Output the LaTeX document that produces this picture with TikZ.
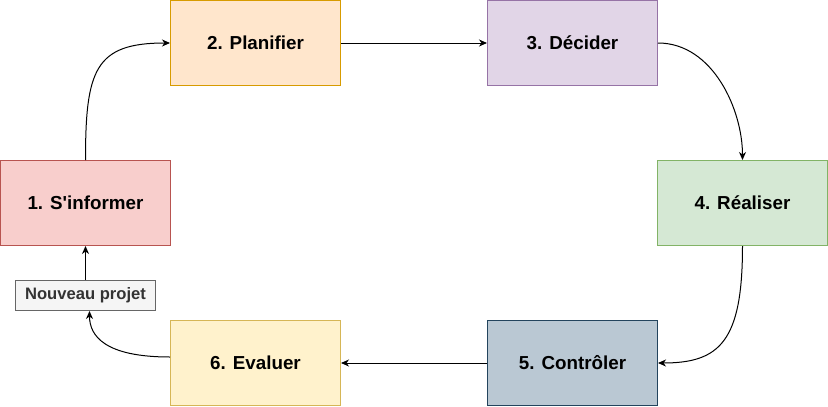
\documentclass[tikz,border=0pt]{standalone}
\usepackage{fontspec}
\setmainfont{Liberation Sans}[Ligatures=TeXOff]
\usetikzlibrary{arrows.meta}
\definecolor{f1}{HTML}{F8CECC}\definecolor{s1}{HTML}{B85450}
\definecolor{f2}{HTML}{FFE6CC}\definecolor{s2}{HTML}{D79B00}
\definecolor{f3}{HTML}{E1D5E7}\definecolor{s3}{HTML}{9673A6}
\definecolor{f4}{HTML}{D5E8D4}\definecolor{s4}{HTML}{82B366}
\definecolor{f5}{HTML}{BAC8D3}\definecolor{s5}{HTML}{23445D}
\definecolor{f6}{HTML}{FFF2CC}\definecolor{s6}{HTML}{D6B656}
\definecolor{fn}{HTML}{F5F5F5}\definecolor{sn}{HTML}{666666}\definecolor{tn}{HTML}{333333}
\begin{document}
\begin{tikzpicture}[x=1pt,y=-1pt,line width=1pt,
  stagebox/.style={draw, minimum width=170pt, minimum height=85pt, inner sep=0pt,
    font=\fontsize{18.8}{22}\selectfont\bfseries},
  npbox/.style={draw=sn, fill=fn, text=tn, minimum width=140pt, minimum height=30pt, inner sep=0pt,
    font=\fontsize{16.6}{20}\selectfont\bfseries},
  conn/.style={draw=black, -{Stealth[length=8pt,width=7pt,inset=2.5pt]}}]
\useasboundingbox (0,0) rectangle (828,407);
\node[stagebox, fill=f1, draw=s1] (a) at (85.5,203) {1. S'informer};
\node[stagebox, fill=f2, draw=s2] (b) at (255.5,43) {2. Planifier};
\node[stagebox, fill=f3, draw=s3] (c) at (572.5,43) {3. Décider};
\node[stagebox, fill=f4, draw=s4] (d) at (742.5,203) {4. Réaliser};
\node[stagebox, fill=f5, draw=s5] (e) at (572.5,363) {5. Contrôler};
\node[stagebox, fill=f6, draw=s6] (f) at (255.5,363) {6. Evaluer};
\node[npbox] (np) at (85.5,295.5) {Nouveau projet};
\draw[conn] (a.north) .. controls +(0,-90) and +(-75,0) .. (b.west);
\draw[conn] (b.east) -- (c.west);
\draw[conn] (c.east) .. controls +(55,0) and +(0,-50) .. (d.north);
\draw[conn] (d.south) .. controls +(0,95) and +(62,0) .. (e.east);
\draw[conn] (e.west) -- (f.east);
\draw[conn] ([yshift=6pt]f.west) .. controls +(-65,0) and +(0,25) .. ([xshift=4pt]np.south);
\draw[conn] (np.north) -- (a.south);
\end{tikzpicture}
\end{document}
